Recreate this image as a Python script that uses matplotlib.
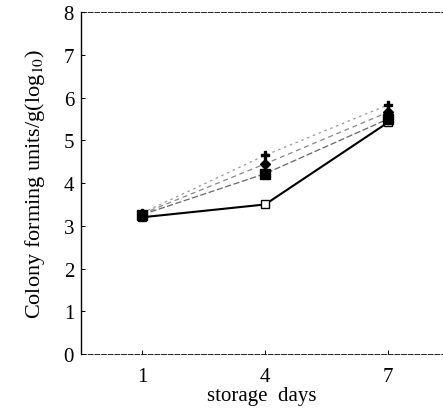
import matplotlib
matplotlib.use("Agg")
import matplotlib.pyplot as plt

# storage days and log10 CFU/g for the four treatments
days = [1, 4, 7]
control = [3.2, 3.5, 5.42]
treat_a = [3.26, 4.22, 5.5]
treat_b = [3.28, 4.45, 5.66]
treat_c = [3.3, 4.65, 5.83]

plt.rcParams['font.family'] = ['Liberation Serif', 'DejaVu Serif']
plt.rcParams['mathtext.fontset'] = 'stix'

fig = plt.figure(figsize=(4.43, 4.10), dpi=100)
ax = fig.add_axes([0.183, 0.134, 0.817, 0.834])

ax.plot(days, control, color='black', lw=1.5, ls='-',
        marker='s', ms=6, mfc='white', mec='black', mew=1.0)
ax.plot(days, treat_c, color='#999999', lw=0.9, ls=(0, (2, 3)),
        marker='P', ms=6, mfc='black', mec='black')
ax.plot(days, treat_b, color='#888888', lw=0.9, ls=(0, (4, 3)),
        marker='D', ms=5, mfc='black', mec='black')
ax.plot(days, treat_a, color='#666666', lw=0.9, ls=(0, (5, 2)),
        marker='s', ms=7, mfc='black', mec='black')

ax.set_xlim(-0.49, 8.34)
ax.set_ylim(0, 8)
ax.set_xticks(days)
ax.set_yticks(range(0, 9))
ax.tick_params(labelsize=15, length=3, width=0.7, direction='in')
ax.tick_params(axis='x', pad=9)
ax.tick_params(axis='y', pad=5)

ax.spines['right'].set_visible(False)
ax.spines['top'].set_linestyle((0, (6, 2)))
ax.spines['top'].set_linewidth(0.6)
ax.spines['bottom'].set_linestyle((0, (6, 2)))
ax.spines['bottom'].set_linewidth(0.6)
ax.spines['left'].set_linewidth(1.0)

ax.set_xlabel('storage  days', fontsize=15, labelpad=0)
ax.set_ylabel('Colony forming units/g(log$_{10}$)', fontsize=16, labelpad=12)

fig.savefig('out.png', dpi=100)
